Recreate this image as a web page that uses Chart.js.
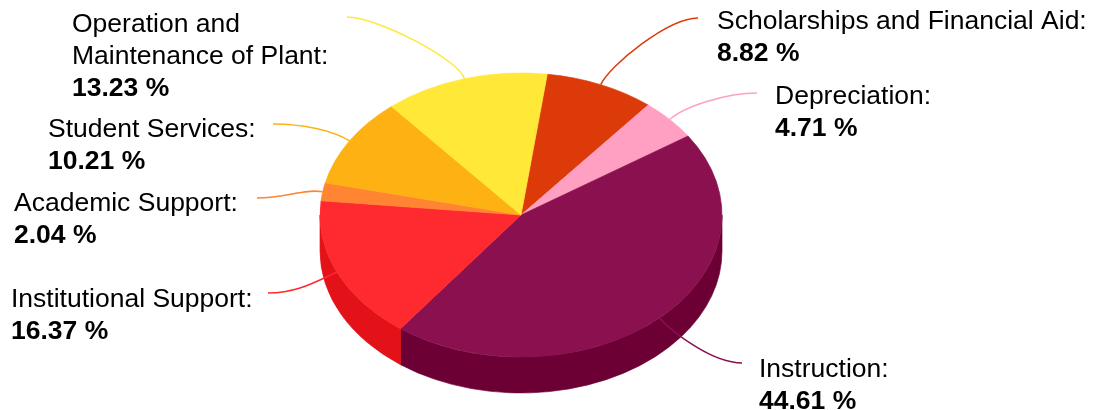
<!DOCTYPE html>
<html><head><meta charset="utf-8">
<script src="https://cdn.jsdelivr.net/npm/chart.js@4.4.1/dist/chart.umd.min.js"></script>
<style>html,body{margin:0;padding:0;background:#fff;overflow:hidden}#wrap{width:1095px;height:410px;position:relative}</style>
</head><body><div id="wrap"><canvas id="c"></canvas></div>
<script>
const categories = ['Scholarships and Financial Aid','Depreciation','Instruction','Institutional Support','Academic Support','Student Services','Operation and Maintenance of Plant'];
const percentages = [8.82, 4.71, 44.61, 16.37, 2.04, 10.21, 13.23];
const topColors = ['#DD3A0A','#FFA0C3','#8A1050','#FF2A2F','#FF8533','#FDB112','#FFE838'];
const sideColors = ['#B52E06','#D9829F','#6C0035','#E31219','#D96A22','#D6930A','#D9C22A'];
const valueSuffix = ' %';

// layout (not data): ellipse geometry and label anchors
const G = {cx:521, cy:215, rx:201, ry:142, depth:36};
const labelLayout = [
  {x:717, y:29,  end:[698,18]},
  {x:775, y:104, end:[757,93]},
  {x:759, y:376.5, end:[742,363]},
  {x:11,  y:307, end:[268,293]},
  {x:14,  y:211, end:[257,198]},
  {x:48,  y:137, end:[273,124]},
  {x:72,  y:31.5, end:[347,17], lines:['Operation and','Maintenance of Plant:']}
];
const LINE_H = 32;
const FONT = "'Liberation Sans', Arial, sans-serif";
const FONT_SIZE = 26.5;

const pie3d = {
  id:'pie3d',
  beforeDatasetsDraw(chart){
    const meta = chart.getDatasetMeta(0);
    const ctx = chart.ctx;
    const e0 = meta.data[0];
    const r = e0.outerRadius;
    const sx = G.rx / r, sy = G.ry / r;
    ctx.save();
    ctx.translate(G.cx, G.cy); ctx.scale(sx, sy); ctx.translate(-e0.x, -e0.y);
    const d = G.depth / sy;
    meta.data.forEach((el, i) => {
      const ranges = [[0, Math.PI], [2*Math.PI, 3*Math.PI], [-2*Math.PI, -Math.PI]];
      for (const [lo, hi] of ranges) {
        const a = Math.max(el.startAngle, lo), b = Math.min(el.endAngle, hi);
        if (b > a) {
          ctx.beginPath();
          ctx.arc(el.x, el.y, r, a, b);
          ctx.arc(el.x, el.y + d, r, b, a, true);
          ctx.closePath();
          ctx.fillStyle = sideColors[i];
          ctx.strokeStyle = sideColors[i];
          ctx.lineWidth = 0.8;
          ctx.fill(); ctx.stroke();
        }
      }
    });
  },
  afterDatasetsDraw(chart){
    const ctx = chart.ctx;
    ctx.restore();
    const meta = chart.getDatasetMeta(0);
    meta.data.forEach((el, i) => {
      const L = labelLayout[i];
      const mid = (el.startAngle + el.endAngle) / 2;
      const c = Math.cos(mid), s = Math.sin(mid);
      const sx0 = G.cx + G.rx * c, sy0 = G.cy + G.ry * s;
      const [ex, ey] = L.end;
      const dir = Math.sign(ex - sx0);
      ctx.save();
      ctx.beginPath();
      ctx.moveTo(sx0, sy0);
      ctx.bezierCurveTo(sx0 + c*20, sy0 + s*20, ex - dir*30, ey, ex, ey);
      ctx.strokeStyle = topColors[i];
      ctx.lineWidth = 1.5;
      ctx.stroke();
      ctx.restore();
      const lines = L.lines || [categories[i] + ':'];
      ctx.save();
      ctx.fillStyle = '#000';
      ctx.textAlign = 'left';
      ctx.textBaseline = 'alphabetic';
      ctx.font = FONT_SIZE + 'px ' + FONT;
      let y = L.y;
      lines.forEach(t => { ctx.fillText(t, L.x, y); y += LINE_H; });
      ctx.font = 'bold ' + FONT_SIZE + 'px ' + FONT;
      ctx.fillText(percentages[i].toFixed(2) + valueSuffix, L.x, y);
      ctx.restore();
    });
  }
};

new Chart(document.getElementById('c'), {
  type: 'pie',
  data: {
    labels: categories,
    datasets: [{
      data: percentages,
      backgroundColor: topColors,
      borderColor: topColors,
      borderWidth: 0.8,
      hoverOffset: 0
    }]
  },
  options: {
    responsive: true,
    maintainAspectRatio: false,
    animation: false,
    events: [],
    rotation: 7.5,
    layout: {padding: 0},
    plugins: {legend: {display: false}, tooltip: {enabled: false}}
  },
  plugins: [pie3d]
});
</script>
</body></html>
